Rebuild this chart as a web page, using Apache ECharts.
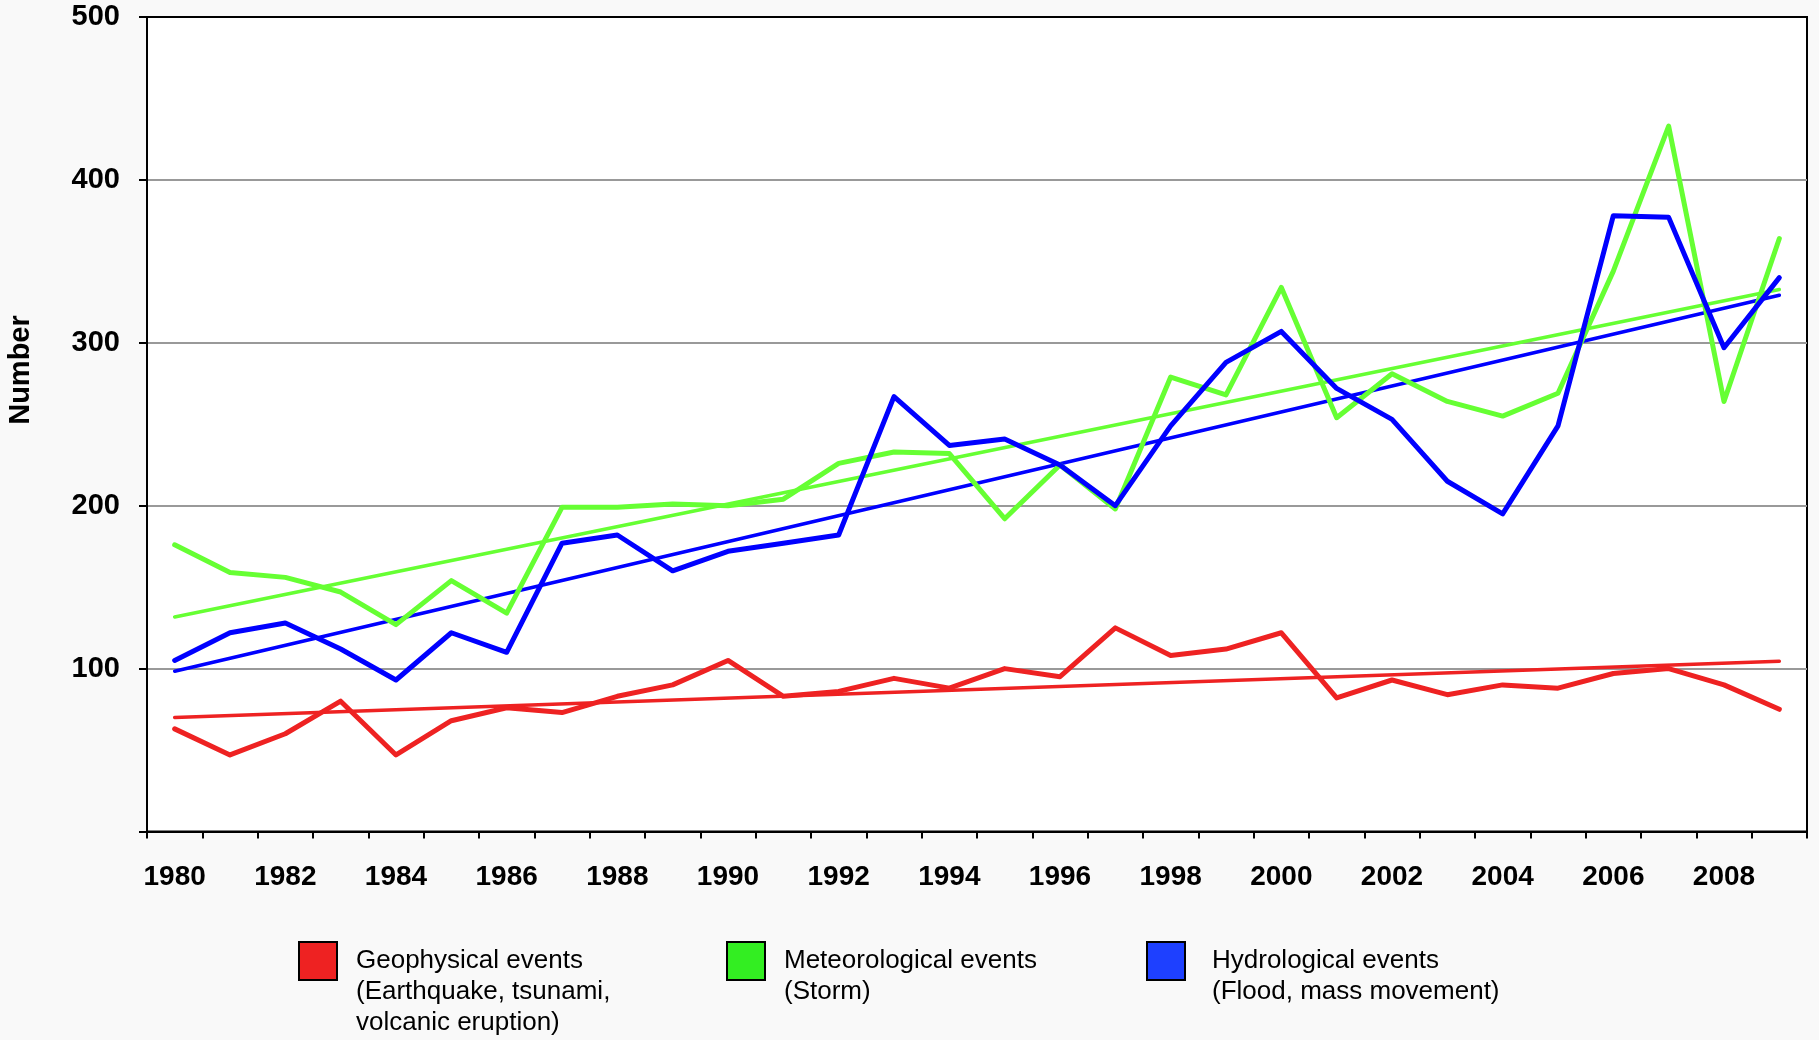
<!DOCTYPE html>
<html>
<head>
<meta charset="utf-8">
<script src="https://cdn.jsdelivr.net/npm/echarts@6/dist/echarts.min.js"></script>
<style>
html,body{margin:0;padding:0;background:#f9f9f9;}
#chart{width:1819px;height:1040px;}
</style>
</head>
<body>
<div id="chart"></div>
<script>
// ---- data ----
var years = ['1980','1981','1982','1983','1984','1985','1986','1987','1988','1989',
             '1990','1991','1992','1993','1994','1995','1996','1997','1998','1999',
             '2000','2001','2002','2003','2004','2005','2006','2007','2008','2009'];
var geophysical = [63, 47, 60, 80, 47, 68, 76, 73, 83, 90, 105, 83, 86, 94, 88, 100, 95, 125, 108, 112, 122, 82, 93, 84, 90, 88, 97, 100, 90, 75];
var meteorological = [176, 159, 156, 147, 127, 154, 134, 199, 199, 201, 200, 204, 226, 233, 232, 192, 225, 198, 279, 268, 334, 254, 281, 264, 255, 269, 344, 433, 264, 364];
var hydrological = [105, 122, 128, 112, 93, 122, 110, 177, 182, 160, 172, 177, 182, 267, 237, 241, 225, 200, 249, 288, 307, 272, 253, 215, 195, 249, 378, 377, 297, 340];
// trend line values at first and last year
var geoTrend = [70, 104.5];
var metTrend = [131.7, 332.7];
var hydTrend = [98.4, 329.2];
var yTicks = [0, 100, 200, 300, 400, 500];
var seriesNames = [
  'Geophysical events\n(Earthquake, tsunami,\nvolcanic eruption)',
  'Meteorological events\n(Storm)',
  'Hydrological events\n(Flood, mass movement)'
];

function trendData(ends) {
  var d = years.map(function(){ return null; });
  d[0] = ends[0];
  d[d.length - 1] = ends[1];
  return d;
}

var FONT = '"Liberation Sans", Arial, sans-serif';
var lineCols = ['#ee2222', '#66ff33', '#0000ff'];
var legendCols = ['#ee2222', '#33ee22', '#1e40ff'];

// icon top at 942; text first line centered on the icon
function legendFor(idx, left, padLeft) {
  var nLines = seriesNames[idx].split('\n').length;
  var pre = '';
  for (var i = 1; i < nLines; i++) pre += '\n';
  var boxH = (2 * nLines - 1) * 31;
  return {
    left: left, top: 942 + 19 - boxH / 2,
    padding: 0,
    orient: 'horizontal',
    icon: 'rect',
    itemWidth: 38, itemHeight: 38,
    itemStyle: {borderColor: '#000', borderWidth: 2},
    selectedMode: false,
    formatter: function (name) { return pre + name; },
    textStyle: {fontFamily: FONT, fontSize: 26, lineHeight: 31, color: '#000', padding: [0, 0, 0, padLeft]},
    data: [{name: seriesNames[idx]}]
  };
}

var chart = echarts.init(document.getElementById('chart'), null, {renderer: 'canvas'});
var option = {
  animation: false,
  backgroundColor: '#f9f9f9',
  grid: {
    left: 147, right: 12, top: 17, bottom: 208.5,
    show: true, backgroundColor: '#ffffff', borderColor: '#000', borderWidth: 2
  },
  graphic: [{
    type: 'text', x: 21, y: 370, rotation: Math.PI / 2,
    style: {text: 'Number', font: 'bold 29px ' + FONT, fill: '#000', align: 'center', verticalAlign: 'middle'}
  }],
  legend: [legendFor(0, 298, 14), legendFor(1, 726, 14), legendFor(2, 1146, 22)],
  xAxis: {
    type: 'category',
    data: years,
    boundaryGap: true,
    axisLine: {lineStyle: {color: '#000', width: 2}},
    axisTick: {show: true, interval: 0, length: 7, lineStyle: {color: '#000', width: 2}},
    axisLabel: {interval: 1, margin: 32, color: '#000', fontFamily: FONT, fontWeight: 'bold', fontSize: 28},
    splitLine: {show: false}
  },
  yAxis: {
    type: 'value',
    min: yTicks[0], max: yTicks[yTicks.length - 1], interval: 100,
    axisLine: {show: true, lineStyle: {color: '#000', width: 2}},
    axisTick: {show: true, length: 8, lineStyle: {color: '#000', width: 2}},
    axisLabel: {
      margin: 27, color: '#000', fontFamily: FONT, fontWeight: 'bold', fontSize: 29,
      formatter: function (v) { return v === 0 ? '' : String(v); }
    },
    splitLine: {show: true, showMaxLine: false, showMinLine: false, lineStyle: {color: '#999', width: 2}}
  },
  series: [
    {name: seriesNames[0], type: 'line', data: geophysical, showSymbol: false, symbol: 'none',
     lineStyle: {color: lineCols[0], width: 5, cap: 'round', join: 'round'}, itemStyle: {color: legendCols[0]}, z: 3},
    {name: seriesNames[1], type: 'line', data: meteorological, showSymbol: false, symbol: 'none',
     lineStyle: {color: lineCols[1], width: 5, cap: 'round', join: 'round'}, itemStyle: {color: legendCols[1]}, z: 3},
    {name: seriesNames[2], type: 'line', data: hydrological, showSymbol: false, symbol: 'none',
     lineStyle: {color: lineCols[2], width: 5, cap: 'round', join: 'round'}, itemStyle: {color: legendCols[2]}, z: 4},
    {name: 'geoTrend', type: 'line', data: trendData(geoTrend), connectNulls: true, showSymbol: false, symbol: 'none',
     lineStyle: {color: lineCols[0], width: 3.5, cap: 'round'}, z: 2},
    {name: 'metTrend', type: 'line', data: trendData(metTrend), connectNulls: true, showSymbol: false, symbol: 'none',
     lineStyle: {color: lineCols[1], width: 3.5, cap: 'round'}, z: 2},
    {name: 'hydTrend', type: 'line', data: trendData(hydTrend), connectNulls: true, showSymbol: false, symbol: 'none',
     lineStyle: {color: lineCols[2], width: 3.5, cap: 'round'}, z: 2}
  ]
};
chart.setOption(option);
</script>
</body>
</html>
